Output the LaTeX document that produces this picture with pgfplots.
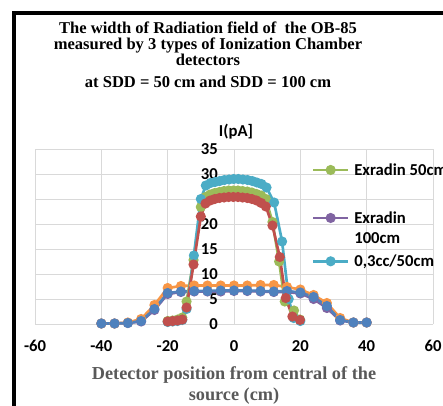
\documentclass[border=0pt]{standalone}
\usepackage{fontspec}
\setmainfont{Liberation Serif}
\newfontfamily\carlito{Carlito}
\usepackage{pgfplots}
\pgfplotsset{compat=1.18}
\definecolor{cBlue}{HTML}{4F81BD}
\definecolor{cRed}{HTML}{C0504D}
\definecolor{cGreen}{HTML}{9BBB59}
\definecolor{cPurple}{HTML}{8064A2}
\definecolor{cCyan}{HTML}{4BACC6}
\definecolor{cOrange}{HTML}{F79646}
\definecolor{gridgray}{HTML}{D9D9D9}
\definecolor{labgray}{HTML}{595959}
\begin{document}
\begin{tikzpicture}
\begin{axis}[
  at={(26.25pt,60.75pt)}, anchor=south west,
  scale only axis, width=298.5pt, height=131.25pt,
  xmin=-60, xmax=60, ymin=0, ymax=35,
  xtick={-60,-40,-20,0,20,40,60}, xticklabels={-60,-40,-20,0,20,40,60},
  ytick={0,5,10,15,20,25,30,35}, yticklabels={0,5,10,15,20,25,30,35},
  grid=major, grid style={gridgray, line width=0.75pt},
  axis line style={draw=none},
  major tick length=0pt,
  tick label style={font=\carlito\bfseries\fontsize{12.5}{15}\selectfont, text=black},
  xticklabel style={yshift=-8.55pt},
  yticklabel style={xshift=140.7pt},
  clip=false,
  every axis plot/.append style={line width=2pt, mark=*, mark size=2.75pt},
  legend image code/.code={\draw[mark repeat=2,mark phase=2,#1] plot coordinates {(0pt,4pt) (13pt,4pt) (26pt,4pt)};},
  legend style={at={(0.696,0.9297)}, anchor=north west, draw=none, fill=none,
    inner sep=0pt, outer sep=0pt, row sep=0pt, column sep=0pt,
    font=\carlito\bfseries\fontsize{12.5}{15}\selectfont,
    nodes={inner xsep=3.75pt, inner ysep=0pt},
    cells={anchor=base west}},
]
% SDD = 100 cm
\addplot[cPurple, mark options={fill=cPurple}, forget plot] coordinates {
(-40,0.1) (-36,0.1) (-32,0.2) (-28,0.5) (-24,2.8) (-20,6.0) (-16,6.4) (-12,6.5) (-8,6.5) (-4,6.5) (0,6.6) (4,6.6) (8,6.5) (12,6.4) (16,6.4) (20,6.1) (24,5.0) (28,3.2) (32,0.7) (36,0.3) (40,0.3)};
\addplot[cOrange, mark options={fill=cOrange}, forget plot] coordinates {
(-40,0.1) (-36,0.1) (-32,0.3) (-28,1.0) (-24,3.8) (-20,7.2) (-16,7.6) (-12,7.7) (-8,7.7) (-4,7.7) (0,7.7) (4,7.7) (8,7.8) (12,7.8) (16,7.4) (20,6.9) (24,5.8) (28,4.2) (32,1.2) (36,0.3) (40,0.3)};
\addplot[cBlue, mark options={fill=cBlue}, forget plot] coordinates {
(-40,0.1) (-36,0.1) (-32,0.2) (-28,0.6) (-24,3.0) (-20,6.2) (-16,6.5) (-12,6.6) (-8,6.6) (-4,6.7) (0,6.7) (4,6.7) (8,6.6) (12,6.5) (16,6.6) (20,6.3) (24,5.4) (28,3.6) (32,0.8) (36,0.3) (40,0.3)};
% SDD = 50 cm
\addplot[cGreen, mark options={fill=cGreen}, forget plot] coordinates {
(-20,0.6) (-18.5,0.7) (-17,0.9) (-15.6,1.3) (-14.3,4.5) (-12.2,12.8) (-10,23.4) (-8.6,25.4) (-7.2,25.9) (-5.8,26.2) (-4.4,26.4) (-3,26.6) (-1.6,26.7) (-0.2,26.7) (1.2,26.7) (2.6,26.6) (4,26.5) (5.4,26.3) (6.8,26.0) (8.2,25.7) (9.6,25.0) (11.6,20.4) (13.6,12.5) (15.3,4.5) (18.1,2.7) (19.9,0.9)};
\addplot[cCyan, mark options={fill=cCyan}, forget plot] coordinates {
(-20,0.4) (-18.5,0.5) (-17,0.6) (-15.6,0.8) (-14.3,3.0) (-12.1,13.7) (-10,25.0) (-8.5,27.7) (-7.1,28.2) (-5.7,28.4) (-4.3,28.6) (-2.9,28.8) (-1.5,28.9) (-0.1,29.0) (1.3,29.0) (2.7,28.9) (4.1,28.8) (5.5,28.6) (6.9,28.3) (8.3,28.0) (9.8,27.3) (12.1,24.3) (14.5,16.5) (16.5,5.0) (18,1.2) (20,0.6)};
\addplot[cRed, mark options={fill=cRed}, forget plot] coordinates {
(-20,0.5) (-18.5,0.6) (-17,0.7) (-15.6,0.9) (-14.3,3.3) (-12.2,11.9) (-10,21.5) (-8.6,24.1) (-7.2,24.7) (-5.8,25.0) (-4.4,25.2) (-3,25.3) (-1.6,25.4) (-0.2,25.4) (1.2,25.4) (2.6,25.3) (4,25.2) (5.4,25.0) (6.8,24.7) (8.2,24.2) (9.6,23.5) (11.6,19.7) (13.8,13.4) (15.6,5.2) (17.6,1.5) (19.9,0.8)};
\addlegendimage{cGreen, line width=2pt, mark=*, mark size=2.75pt, mark options={fill=cGreen}}
\addlegendentry{\rule{0pt}{10.5pt}Exradin 50cm}
\addlegendimage{cPurple, line width=2pt, mark=*, mark size=2.75pt, mark options={fill=cPurple}}
\addlegendentry{\rule{0pt}{34.5pt}\begin{tabular}[t]{@{}l@{}}Exradin\\100cm\end{tabular}}
\addlegendimage{cCyan, line width=2pt, mark=*, mark size=2.75pt, mark options={fill=cCyan}}
\addlegendentry{\rule{0pt}{31pt}0,3cc/50cm}
\end{axis}
% titles and labels
\begin{scope}[every node/.style={anchor=base, inner sep=0pt}]
\node[font=\bfseries\fontsize{12.4}{14}\selectfont] at (156pt,278.4pt) {The width of Radiation field of\ \ the OB-85};
\node[font=\bfseries\fontsize{12.4}{14}\selectfont] at (156pt,266.4pt) {measured by 3 types of Ionization Chamber};
\node[font=\bfseries\fontsize{12.4}{14}\selectfont] at (156pt,254.4pt) {detectors};
\node[font=\bfseries\fontsize{12.4}{14}\selectfont] at (156pt,238.5pt) {at SDD = 50 cm and SDD = 100 cm};
\node[font=\carlito\bfseries\fontsize{12.5}{15}\selectfont] at (177pt,201.75pt) {I(pA]};
\node[font=\bfseries\fontsize{13.7}{16}\selectfont, text=labgray] at (175.5pt,19.5pt) {Detector position from central of the};
\node[font=\bfseries\fontsize{13.7}{16}\selectfont, text=labgray] at (175.5pt,3.75pt) {source (cm)};
\end{scope}
% chart frame (cropped)
\draw[black, line width=3pt] (10.5pt,-5pt) -- (10.5pt,294pt) -- (345pt,294pt);
\pgfresetboundingbox
\useasboundingbox (0pt,0pt) rectangle (332.25pt,303.75pt);
\end{tikzpicture}
\end{document}
